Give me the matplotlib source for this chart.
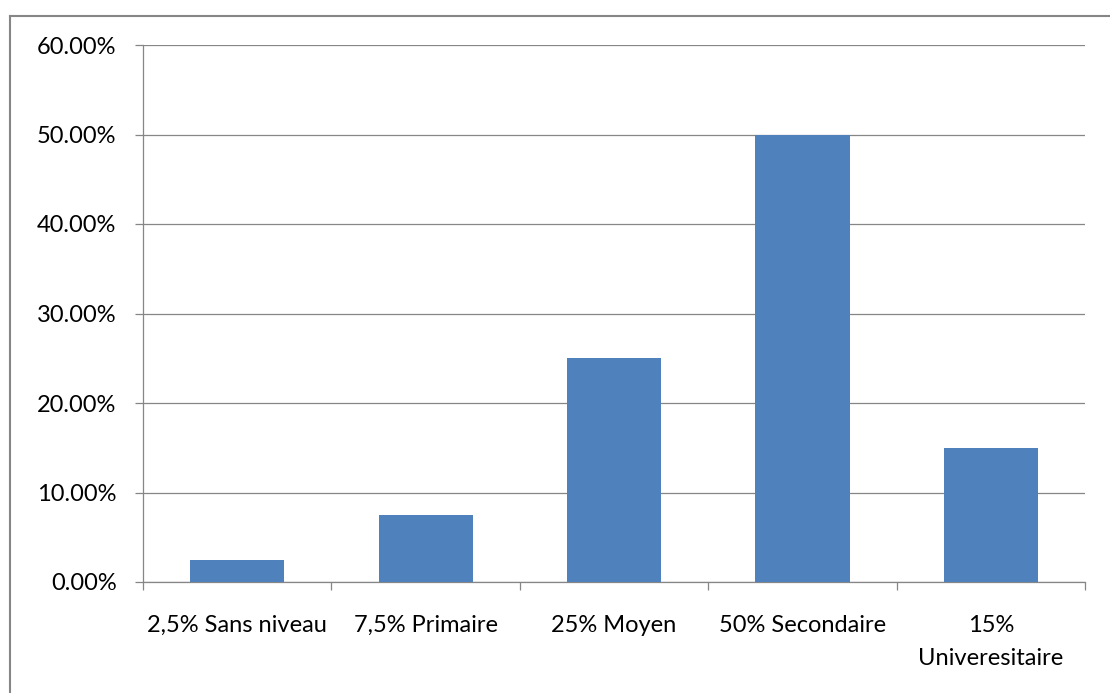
import matplotlib.pyplot as plt
from matplotlib.ticker import FixedLocator, FuncFormatter
from matplotlib.lines import Line2D

categories = ["2,5% Sans niveau", "7,5% Primaire", "25% Moyen", "50% Secondaire", "15%\nUniveresitaire"]
values = [0.025, 0.075, 0.25, 0.50, 0.15]
y_ticks = [0.0, 0.1, 0.2, 0.3, 0.4, 0.5, 0.6]

plt.rcParams['font.family'] = ['Lato', 'DejaVu Sans']
grey = '#868686'
bar_color = '#4F81BD'

fig = plt.figure(figsize=(11.10, 6.93), dpi=100)
ax = fig.add_axes([143/1110, 1 - 582/693, (1085 - 143)/1110, (582 - 45)/693])

x = list(range(len(categories)))
ax.bar(x, values, width=0.5, color=bar_color, zorder=3)

ax.set_xlim(-0.5, len(categories) - 0.5)
ax.set_ylim(0, 0.6)
ax.set_yticks(y_ticks)
ax.yaxis.set_major_formatter(FuncFormatter(lambda v, p: f"{v*100:.2f}%"))
ax.grid(axis='y', color=grey, linewidth=0.9, zorder=0)

ax.set_xticks(x)
ax.set_xticklabels(categories, linespacing=1.7)
ax.xaxis.set_minor_locator(FixedLocator([i - 0.5 for i in range(len(categories) + 1)]))
ax.tick_params(axis='x', which='major', length=0, pad=24, labelsize=17)
ax.tick_params(axis='x', which='minor', length=6, width=0.9, color=grey)
ax.tick_params(axis='y', length=6, width=0.9, color=grey, pad=13, labelsize=17)

for side in ['top', 'right']:
    ax.spines[side].set_visible(False)
for side in ['left', 'bottom']:
    ax.spines[side].set_color(grey)
    ax.spines[side].set_linewidth(0.9)

# chart area border (left and top edges)
fig.add_artist(Line2D([10/1110, 10/1110], [0, 1 - 16/693], color=grey, linewidth=1.5, transform=fig.transFigure))
fig.add_artist(Line2D([10/1110, 1], [1 - 16/693, 1 - 16/693], color=grey, linewidth=1.5, transform=fig.transFigure))

fig.savefig('out.png', dpi=100)
